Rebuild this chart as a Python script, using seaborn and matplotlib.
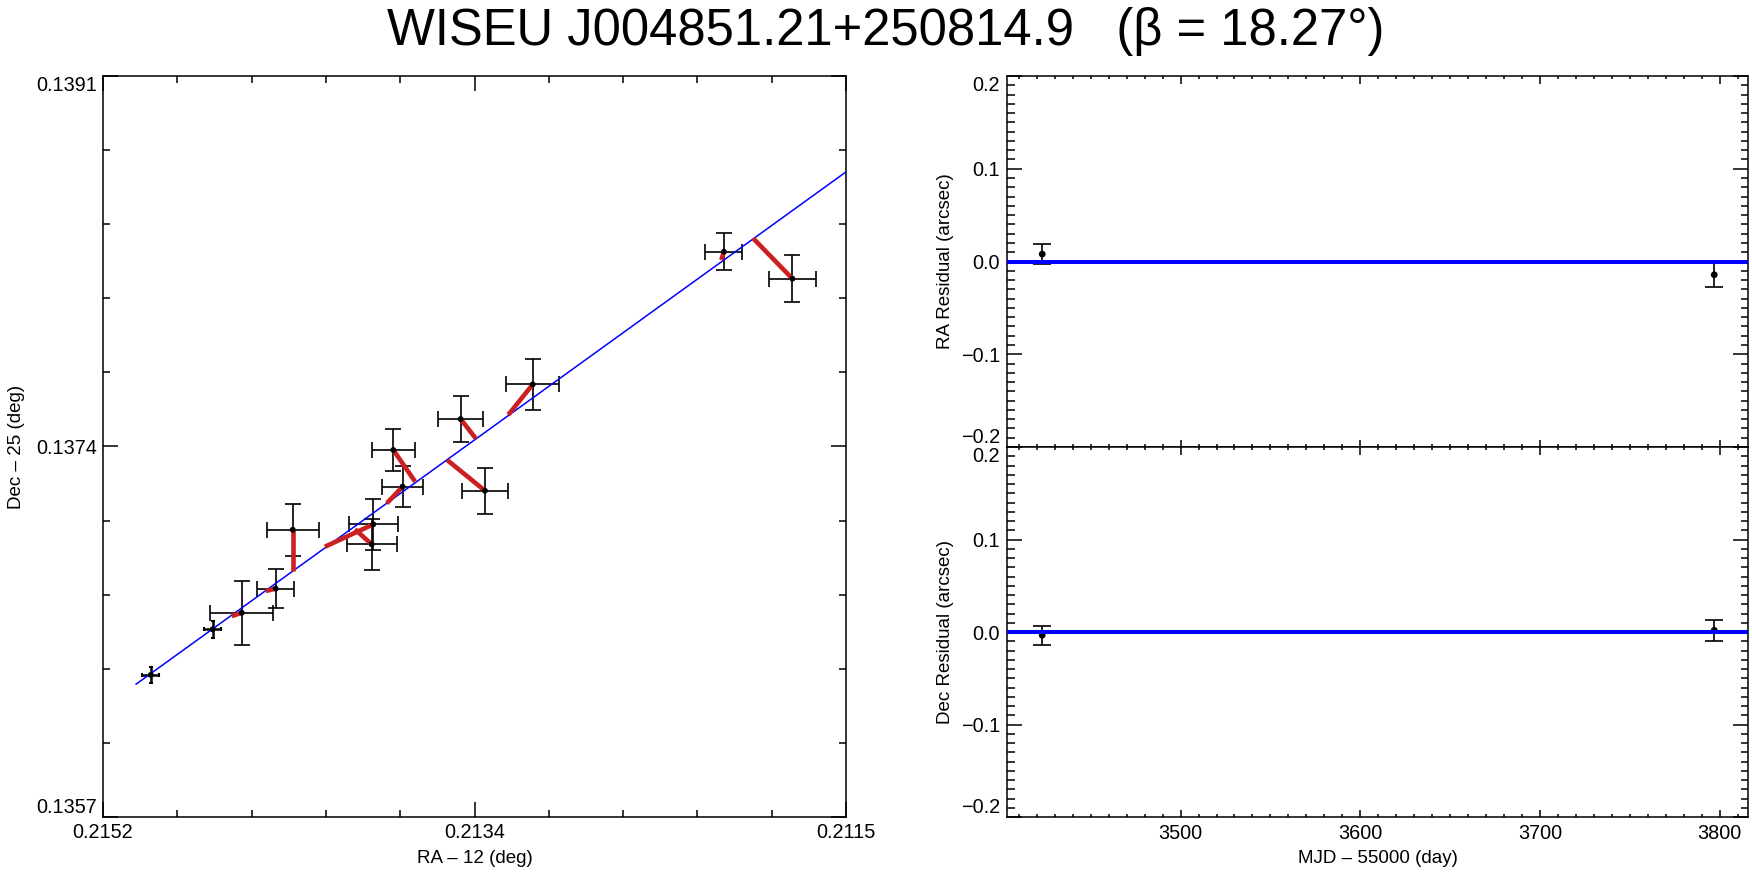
import numpy as np
import matplotlib
matplotlib.use("Agg")
import matplotlib.pyplot as plt
import seaborn as sns

# === Data ===
# astrometry (RA - 12 deg, Dec - 25 deg), one entry per epoch
ra = [0.214962, 0.214654, 0.214509, 0.214340, 0.214255, 0.213854, 0.213862,
      0.213708, 0.213754, 0.213419, 0.213298, 0.213060, 0.212108, 0.211767]
dec = [0.136352, 0.136561, 0.136637, 0.136748, 0.137018, 0.137043, 0.136951,
       0.137216, 0.137384, 0.137526, 0.137197, 0.137685, 0.138294, 0.138170]
ra_err = [0.000043, 0.000041, 0.000158, 0.000093, 0.000129, 0.000123, 0.000125,
          0.000104, 0.000106, 0.000112, 0.000114, 0.000133, 0.000092, 0.000117]
dec_err = [0.000038, 0.000038, 0.000148, 0.000089, 0.000119, 0.000118, 0.000118,
           0.000095, 0.000095, 0.000105, 0.000106, 0.000117, 0.000086, 0.000109]
# model position for each epoch (end of the red segment)
ra_model = [0.214962, 0.214654, 0.214559, 0.214390, 0.214255, 0.214095, 0.213945,
            0.213787, 0.213646, 0.213343, 0.213486, 0.213182, 0.212121, 0.211962]
dec_model = [0.136352, 0.136561, 0.136622, 0.136737, 0.136830, 0.136940, 0.137020,
             0.137139, 0.137239, 0.137436, 0.137338, 0.137545, 0.138256, 0.138355]
# fitted track
track_ra = [0.215036, 0.211500]
track_dec = [0.136309, 0.138660]

ra_ticks = [0.21520, 0.21335, 0.21150]
ra_ticklabels = ["0.2152", "0.2134", "0.2115"]
dec_ticks = [0.1357, 0.1374, 0.1391]
dec_ticklabels = ["0.1357", "0.1374", "0.1391"]

# residuals
mjd = [3423, 3797]
ra_res = [0.0080, -0.0143]
ra_res_err = [0.0104, 0.0136]
dec_res = [-0.0035, 0.0018]
dec_res_err = [0.0102, 0.0110]
mjd_ticks = [3500, 3600, 3700, 3800]
res_ticks = [-0.2, -0.1, 0.0, 0.1, 0.2]
res_ticklabels = ["\u22120.2", "\u22120.1", "0.0", "0.1", "0.2"]

title = "WISEU J004851.21+250814.9   (\u03b2 = 18.27\u00b0)"

# === Style ===
sns.set_theme(style="ticks")
plt.rcParams['font.family'] = ['Liberation Sans', 'DejaVu Sans']
plt.rcParams['text.color'] = 'black'
plt.rcParams['axes.labelcolor'] = 'black'
plt.rcParams['axes.linewidth'] = 1.1
plt.rcParams['axes.edgecolor'] = 'black'
plt.rcParams['xtick.color'] = 'black'
plt.rcParams['ytick.color'] = 'black'
plt.rcParams['xtick.labelcolor'] = 'black'
plt.rcParams['ytick.labelcolor'] = 'black'
FS_TICK = 14.3
FS_LAB = 13.5

fig = plt.figure(figsize=(17.52, 8.74), dpi=100)
ax = fig.add_axes([103 / 1752, 1 - 817 / 874, 743 / 1752, 741 / 874])
ax_ra = fig.add_axes([1007 / 1752, 1 - 447 / 874, 741 / 1752, 371 / 874])
ax_dec = fig.add_axes([1007 / 1752, 1 - 817 / 874, 741 / 1752, 370 / 874])

# === Left: sky positions ===
# first two epochs have tiny errors -> small caps so they read as crosses
ax.errorbar(ra[:2], dec[:2], xerr=ra_err[:2], yerr=dec_err[:2], fmt='none',
            ecolor='black', elinewidth=1.8, capsize=1.5, capthick=1.5, zorder=2)
ax.errorbar(ra[2:], dec[2:], xerr=ra_err[2:], yerr=dec_err[2:], fmt='none',
            ecolor='black', elinewidth=1.2, capsize=6, capthick=1.2, zorder=2)
sns.lineplot(x=track_ra, y=track_dec, color='#0000ff', linewidth=1.1, ax=ax, zorder=3)
for x0, y0, x1, y1 in zip(ra, dec, ra_model, dec_model):
    ax.plot([x0, x1], [y0, y1], color='#cc1f1f', linewidth=3.3,
            solid_capstyle='butt', zorder=4)
sns.scatterplot(x=ra, y=dec, color='black', s=18, edgecolor='none', ax=ax, zorder=5)

ax.set_xlim(ra_ticks[0], ra_ticks[-1])
ax.set_ylim(dec_ticks[0], dec_ticks[-1])
ax.set_xticks(ra_ticks, ra_ticklabels)
ax.set_yticks(dec_ticks, dec_ticklabels)
ax.set_xticks(np.linspace(ra_ticks[0], ra_ticks[-1], 11), minor=True)
ax.set_yticks(np.linspace(dec_ticks[0], dec_ticks[-1], 11), minor=True)
ax.tick_params(which='both', direction='in', top=True, right=True, width=1.1,
               labelsize=FS_TICK, pad=4.5)
ax.tick_params(which='major', length=10.8)
ax.tick_params(which='minor', length=5.3)
ax.set_xlabel("RA \u2013 12 (deg)", fontsize=FS_LAB)
ax.set_ylabel("Dec \u2013 25 (deg)", fontsize=FS_LAB)
ax.xaxis.set_label_coords(0.5, -0.045)
ax.yaxis.set_label_coords(-0.105, 0.5)

# === Right: residuals ===
for a, res, err, lab in [(ax_ra, ra_res, ra_res_err, "RA Residual (arcsec)"),
                         (ax_dec, dec_res, dec_res_err, "Dec Residual (arcsec)")]:
    a.errorbar(mjd, res, yerr=err, fmt='none', ecolor='black', elinewidth=1.2,
               capsize=6.5, capthick=1.2, zorder=2)
    sns.scatterplot(x=mjd, y=res, color='black', s=24, edgecolor='none', ax=a, zorder=3)
    a.axhline(0.0, color='#0000ff', linewidth=2.9, zorder=4)
    a.set_xlim(3403.4, 3815.8)
    a.set_ylim(-0.2, 0.2)
    a.set_xticks(mjd_ticks)
    a.set_yticks(res_ticks, res_ticklabels)
    a.set_xticks(np.arange(3410, 3816, 10), minor=True)
    a.set_yticks(np.arange(-0.2, 0.2001, 0.01), minor=True)
    a.tick_params(which='both', direction='in', top=True, right=True, width=1.1,
                  labelsize=FS_TICK, pad=5)
    a.tick_params(axis='y', which='major', length=10.8)
    a.tick_params(axis='y', which='minor', length=5.4)
    a.tick_params(axis='x', which='major', length=5.4)
    a.tick_params(axis='x', which='minor', length=2.5)
    a.set_ylabel(lab, fontsize=FS_LAB)
    a.yaxis.set_label_coords(-0.0715, 0.5)

ax_ra.tick_params(labelbottom=False)
ax_dec.set_xlabel("MJD \u2013 55000 (day)", fontsize=FS_LAB)
ax_dec.xaxis.set_label_coords(0.5, -0.09)

# end labels sit inside the axis range
for a in [ax, ax_ra, ax_dec]:
    labels = a.get_yticklabels()
    labels[0].set_va('bottom')
    labels[-1].set_va('top')

fig.text(886 / 1752, 0.992, title, ha='center', va='top', fontsize=36.5)

fig.savefig("out.png", dpi=100)
